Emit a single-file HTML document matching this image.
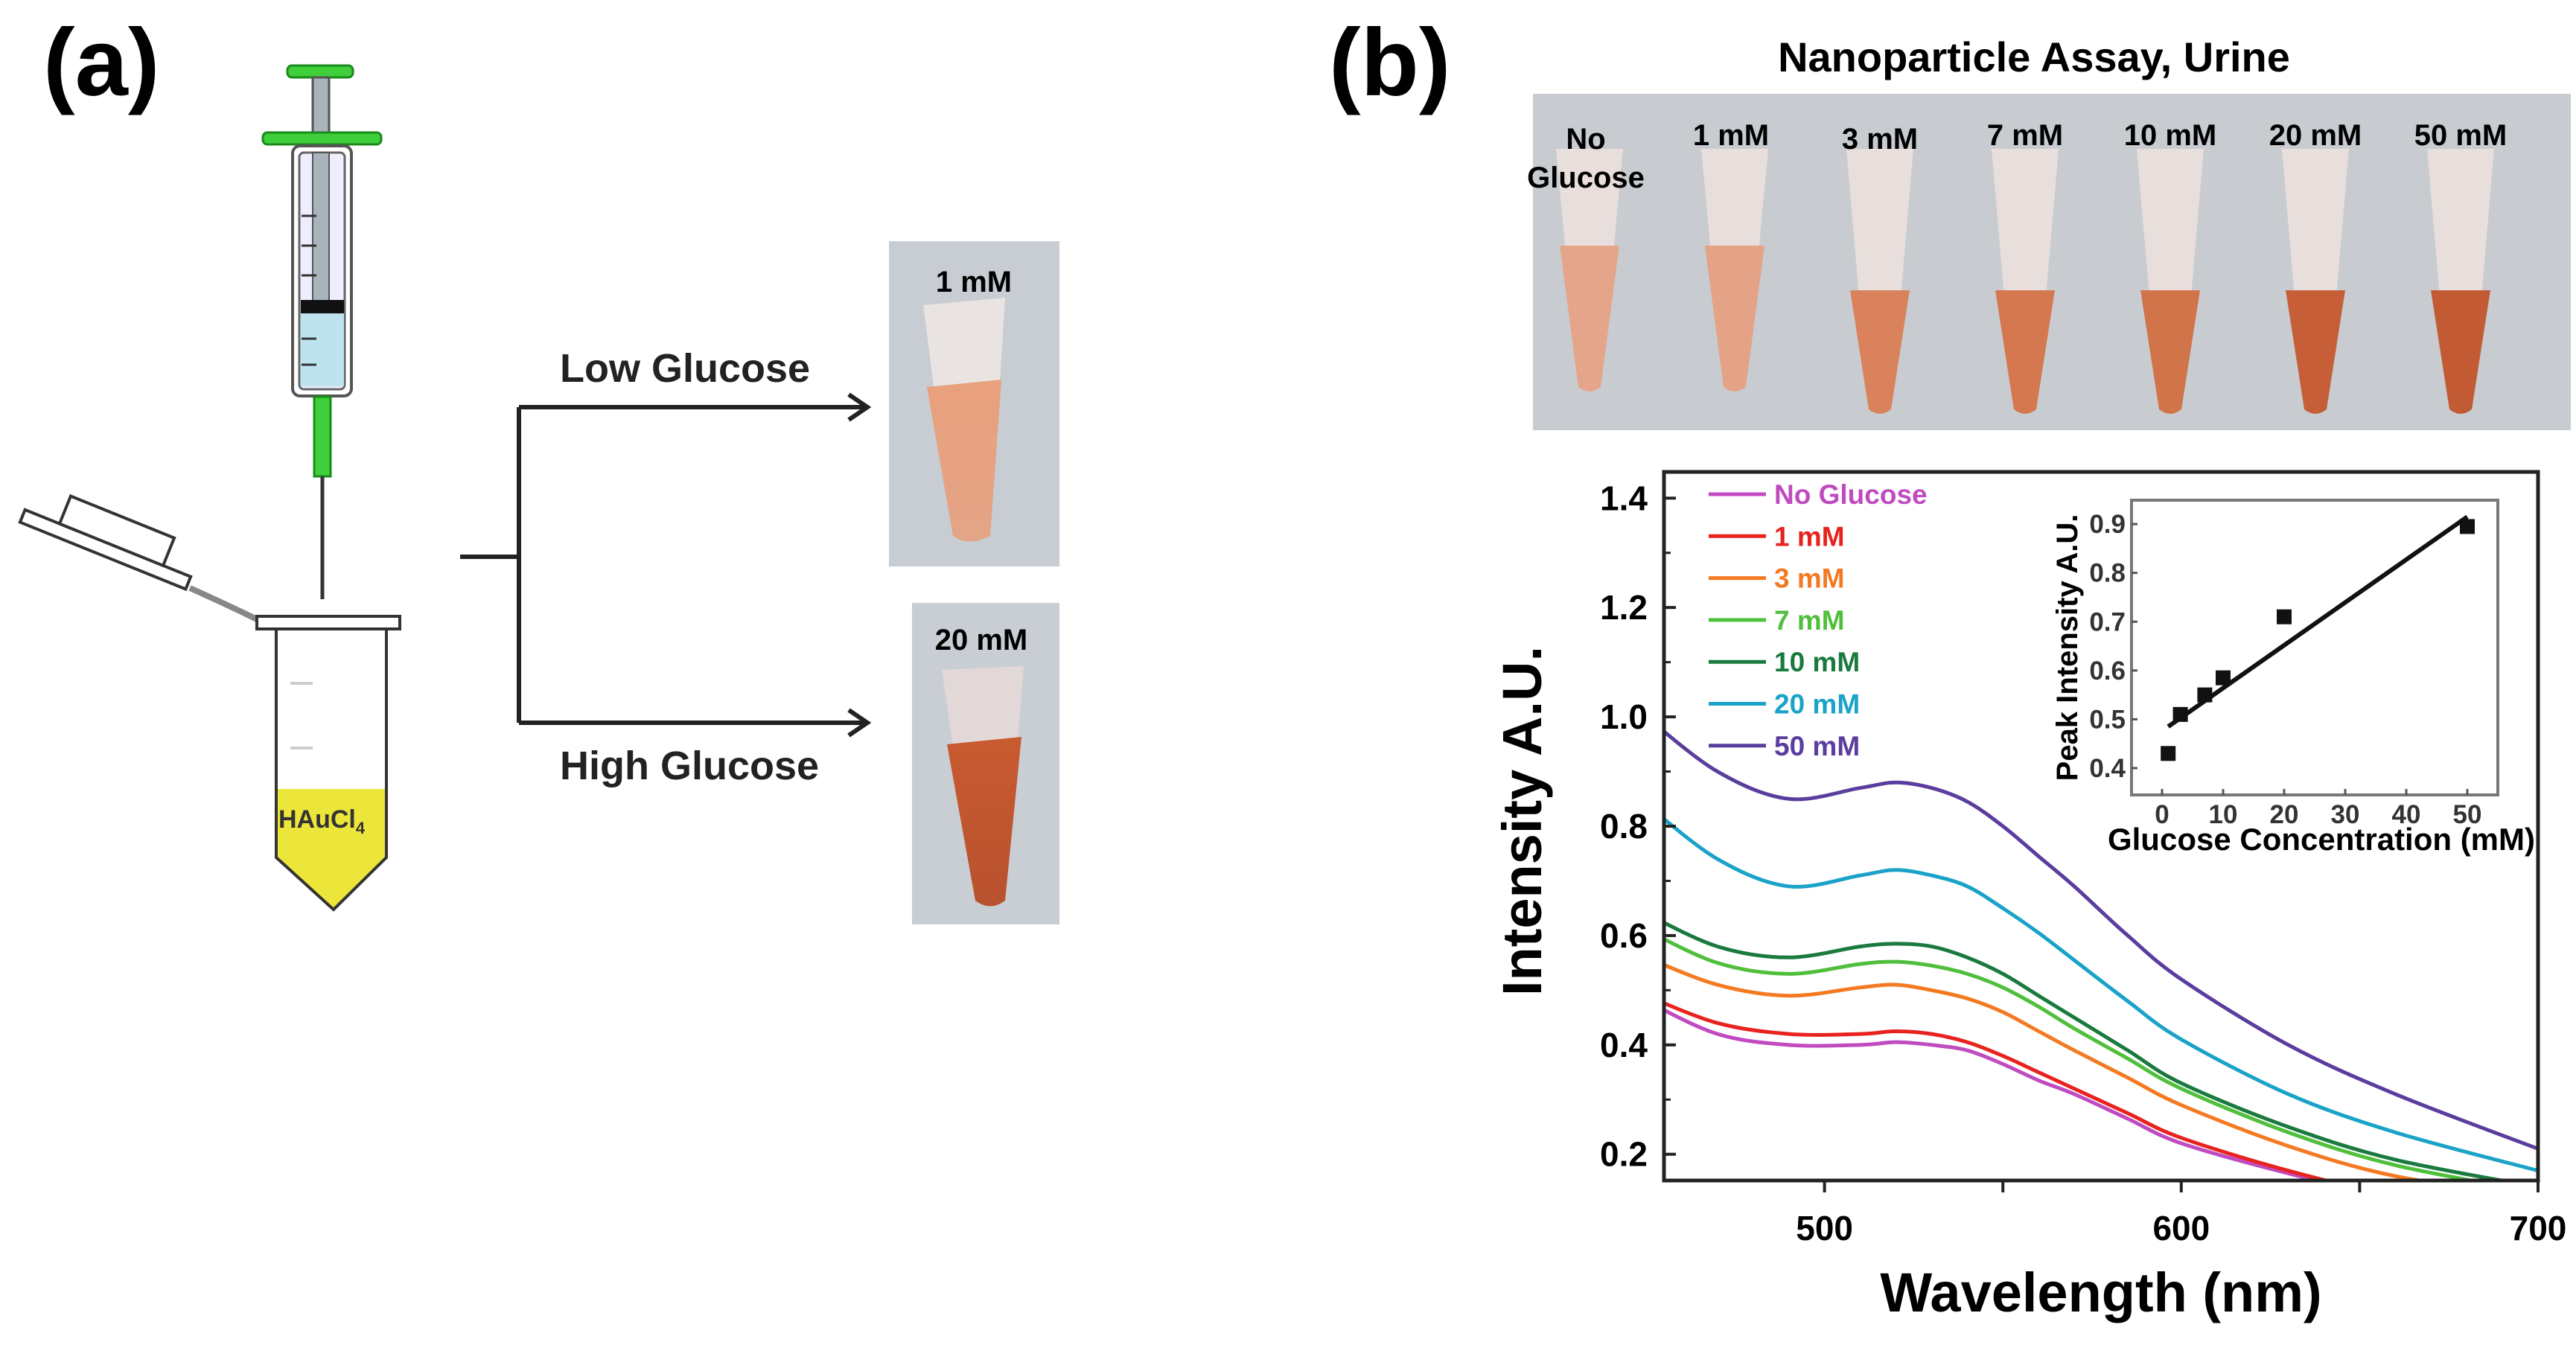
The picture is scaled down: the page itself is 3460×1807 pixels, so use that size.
<!DOCTYPE html>
<html><head><meta charset="utf-8"><style>
html,body{margin:0;padding:0;background:#fff}
svg{display:block}
text{font-family:"Liberation Sans",Arial,sans-serif}
.nar{font-family:"Liberation Sans Narrow","Liberation Sans",sans-serif}
</style></head><body>
<svg id="fig" width="3460" height="1807" viewBox="0 0 3460 1807" xmlns="http://www.w3.org/2000/svg">
<defs>
<linearGradient id="liq1" x1="0" y1="0" x2="0" y2="1"><stop offset="0" stop-color="#e9a07c"/><stop offset="1" stop-color="#e4a487"/></linearGradient>
<linearGradient id="liq2" x1="0" y1="0" x2="0" y2="1"><stop offset="0" stop-color="#c85a30"/><stop offset="1" stop-color="#b8522e"/></linearGradient>
</defs>
<!-- Panel (a) -->
<text x="58" y="128" font-size="128" font-weight="bold">(a)</text>
<g>
<rect x="386" y="88" width="88" height="16" rx="6" fill="#3ecf3a" stroke="#1a8a1a" stroke-width="3"/>
<rect x="420" y="104" width="22" height="80" fill="#a9b3bb" stroke="#555" stroke-width="3"/>
<rect x="353" y="178" width="159" height="16" rx="6" fill="#3ecf3a" stroke="#1a8a1a" stroke-width="3"/>
<rect x="393" y="196" width="79" height="336" rx="10" fill="#fff" stroke="#555" stroke-width="4"/>
<rect x="402" y="205" width="61" height="318" rx="6" fill="#eef" stroke="#666" stroke-width="3"/>
<rect x="420" y="205" width="22" height="200" fill="#a9b3bb" stroke="#555" stroke-width="2"/>
<rect x="404" y="403" width="58" height="18" fill="#111"/>
<rect x="404" y="421" width="58" height="98" fill="#bde3ef"/>
<g stroke="#333" stroke-width="3"><line x1="405" y1="290" x2="425" y2="290"/><line x1="405" y1="330" x2="425" y2="330"/><line x1="405" y1="370" x2="425" y2="370"/><line x1="405" y1="455" x2="425" y2="455"/><line x1="405" y1="490" x2="425" y2="490"/></g>
<rect x="422" y="533" width="22" height="107" fill="#3ecf3a" stroke="#1a8a1a" stroke-width="3"/>
<line x1="433" y1="640" x2="433" y2="805" stroke="#333" stroke-width="5"/>
</g>
<g>
<g transform="rotate(22 130 740)"><rect x="20" y="725" width="240" height="18" fill="#fff" stroke="#333" stroke-width="4"/><rect x="70" y="685" width="150" height="40" fill="#fff" stroke="#333" stroke-width="4"/></g>
<path d="M255 790 Q300 810 345 832" fill="none" stroke="#888" stroke-width="8"/>
<rect x="345" y="828" width="192" height="17" fill="#fff" stroke="#333" stroke-width="4"/>
<path d="M371 1060 L519 1060 L519 1152 L448 1222 L371 1152Z" fill="#ede63a"/>
<path d="M371 845 L371 1152 L448 1222 L519 1152 L519 845" fill="none" stroke="#333" stroke-width="4"/>
<line x1="390" y1="918" x2="420" y2="918" stroke="#ccc" stroke-width="4"/>
<line x1="390" y1="1005" x2="420" y2="1005" stroke="#ccc" stroke-width="4"/>
<text x="374" y="1112" font-size="34" font-weight="bold" fill="#333" class="nar">HAuCl<tspan font-size="22" dy="8">4</tspan></text>
</g>
<g stroke="#222" stroke-width="6" fill="none">
<line x1="618" y1="748" x2="697" y2="748"/>
<line x1="697" y1="547" x2="697" y2="971"/>
<line x1="697" y1="547" x2="1160" y2="547"/>
<line x1="697" y1="971" x2="1160" y2="971"/>
<polyline points="1140,530 1165,547 1140,564"/>
<polyline points="1140,954 1165,971 1140,988"/>
</g>
<text x="752" y="513" font-size="54" font-weight="bold" fill="#222">Low Glucose</text>
<text x="752" y="1047" font-size="54" font-weight="bold" fill="#222">High Glucose</text>
<g>
<rect x="1194" y="324" width="229" height="437" fill="#c7cdd3"/>
<path d="M1240 410 L1350 400 L1330 720 Q1300 735 1280 720Z" fill="#e9e4e2"/>
<path d="M1245 520 L1345 510 L1330 720 Q1300 735 1280 720Z" fill="url(#liq1)"/>
<text x="1308" y="392" font-size="40" font-weight="bold" text-anchor="middle">1 mM</text>
</g>
<g>
<rect x="1225" y="810" width="198" height="432" fill="#c9ced4"/>
<path d="M1265 900 L1375 895 L1350 1210 Q1330 1225 1310 1210Z" fill="#e2d8d8"/>
<path d="M1272 1000 L1372 990 L1350 1210 Q1330 1225 1310 1210Z" fill="url(#liq2)"/>
<text x="1318" y="873" font-size="40" font-weight="bold" text-anchor="middle">20 mM</text>
</g>
<!-- Panel (b) -->
<text x="1785" y="128" font-size="128" font-weight="bold">(b)</text>
<text x="2732" y="96" font-size="56" font-weight="bold" text-anchor="middle">Nanoparticle Assay, Urine</text>
<g id="strip">
<rect x="2059" y="126" width="1394" height="452" fill="#c8ccd0"/>
</g>
<g id="chart"></g>
<g id="inset"></g>
</svg>
<script>
const NS='http://www.w3.org/2000/svg';
function mk(tag,attrs,parent,txt){const e=document.createElementNS(NS,tag);for(const k in attrs)e.setAttribute(k,attrs[k]);if(txt!==undefined)e.textContent=txt;parent.appendChild(e);return e;}

const tubeLabels=['No Glucose','1 mM','3 mM','7 mM','10 mM','20 mM','50 mM'];
const tubeColors=['#e5a58a','#e4a286','#d9825c','#d57850','#d27449','#c65f38','#c25a34'];
const strip=document.getElementById('strip');
tubeLabels.forEach((lab,i)=>{
  const cx=2135+i*195, top=200, liq=i<2?330:390, bot=i<2?520:550;
  const g=mk('g',{},strip);
  
  
  mk('path',{d:`M${cx-45} ${top} L${cx+45} ${top} L${cx+15} ${bot} Q${cx} ${bot+12} ${cx-15} ${bot}Z`,fill:'#e8dfdc'},g);
  mk('path',{d:`M${cx-40} ${liq} L${cx+40} ${liq} L${cx+15} ${bot} Q${cx} ${bot+12} ${cx-15} ${bot}Z`,fill:tubeColors[i]},g);
  if(i===0){
    const t=mk('text',{x:cx-5,y:200,'font-size':40,'font-weight':'bold','text-anchor':'middle',class:'nar'},g,'No');
    
    const t2=mk('text',{x:cx-5,y:252,'font-size':40,'font-weight':'bold','text-anchor':'middle',class:'nar'},g,'Glucose');
    
  } else {
    const t=mk('text',{x:cx+(i===1?-5:0),y:i===2?200:195,'font-size':40,'font-weight':'bold','text-anchor':'middle',class:'nar'},g,lab);
    
  }
});

// ---- Main spectra chart data ----
const wavelengths=[450,470,490,510,520,530,540,550,560,570,585,600,630,660,700];
const seriesNames=['No Glucose','1 mM','3 mM','7 mM','10 mM','20 mM','50 mM'];
const seriesColors=['#c04ac0','#e8231f','#f47a22','#4fbf3c','#1a7a3e','#1aa2c8','#5a3d9e'];
const sNoGlucose=[0.48,0.42,0.40,0.40,0.405,0.40,0.39,0.365,0.335,0.31,0.265,0.22,0.165,0.12,0.09];
const s1mM=[0.49,0.44,0.42,0.42,0.425,0.42,0.405,0.38,0.35,0.32,0.275,0.23,0.17,0.125,0.09];
const s3mM=[0.56,0.51,0.49,0.505,0.51,0.50,0.485,0.46,0.425,0.39,0.34,0.29,0.215,0.16,0.12];
const s7mM=[0.61,0.55,0.53,0.548,0.552,0.545,0.53,0.505,0.47,0.43,0.375,0.32,0.24,0.18,0.13];
const s10mM=[0.64,0.58,0.56,0.58,0.585,0.58,0.56,0.53,0.49,0.45,0.39,0.33,0.25,0.19,0.14];
const s20mM=[0.84,0.74,0.69,0.71,0.72,0.71,0.69,0.65,0.605,0.555,0.48,0.41,0.31,0.24,0.17];
const s50mM=[1.0,0.90,0.85,0.87,0.88,0.87,0.845,0.80,0.745,0.69,0.60,0.52,0.40,0.31,0.21];
const allSeries=[sNoGlucose,s1mM,s3mM,s7mM,s10mM,s20mM,s50mM];
const xTicks=[500,600,700];
const yTicks=[0.2,0.4,0.6,0.8,1.0,1.2,1.4];
const yTickLabels=['0.2','0.4','0.6','0.8','1.0','1.2','1.4'];

const L=2235,R=3409,T=634,B=1586,XMIN=455,XMAX=700,YMIN=0.152,YMAX=1.448;
const sx=v=>L+(v-XMIN)/(XMAX-XMIN)*(R-L);
const sy=v=>B-(v-YMIN)/(YMAX-YMIN)*(B-T);
const chart=document.getElementById('chart');
const cp=mk('clipPath',{id:'plotclip'},chart);
mk('rect',{x:L,y:T,width:R-L,height:B-T},cp);

function smoothPath(pts){
  let d=`M${pts[0][0]} ${pts[0][1]}`;
  for(let i=0;i<pts.length-1;i++){
    const p0=pts[Math.max(0,i-1)],p1=pts[i],p2=pts[i+1],p3=pts[Math.min(pts.length-1,i+2)];
    const c1=[p1[0]+(p2[0]-p0[0])/6,p1[1]+(p2[1]-p0[1])/6];
    const c2=[p2[0]-(p3[0]-p1[0])/6,p2[1]-(p3[1]-p1[1])/6];
    d+=` C${c1[0]} ${c1[1]} ${c2[0]} ${c2[1]} ${p2[0]} ${p2[1]}`;
  }
  return d;
}
const lg=mk('g',{'clip-path':'url(#plotclip)'},chart);
allSeries.forEach((s,i)=>{
  const pts=wavelengths.map((w,j)=>[sx(w),sy(s[j])]);
  const p=mk('path',{d:smoothPath(pts),fill:'none',stroke:seriesColors[i],'stroke-width':5},lg);
  
  
});
const box=mk('rect',{x:L,y:T,width:R-L,height:B-T,fill:'none',stroke:'#222','stroke-width':5},chart);


yTicks.forEach((v,i)=>{
  mk('line',{x1:L,x2:L+16,y1:sy(v),y2:sy(v),stroke:'#222','stroke-width':4},chart);
  if(v+0.1<YMAX) mk('line',{x1:L,x2:L+9,y1:sy(v+0.1),y2:sy(v+0.1),stroke:'#222','stroke-width':3},chart);
  const t=mk('text',{x:L-22,y:sy(v)+16,'font-size':46,'font-weight':'bold','text-anchor':'end'},chart,yTickLabels[i]);
  
  
});
[550,650].concat(xTicks).forEach(v=>{mk('line',{x1:sx(v),x2:sx(v),y1:B,y2:B+16,stroke:'#222','stroke-width':4},chart);});
xTicks.forEach(v=>{
  const t=mk('text',{x:sx(v),y:B+80,'font-size':46,'font-weight':'bold','text-anchor':'middle'},chart,String(v));
  
  
});
const xt=mk('text',{x:2822,y:1762,'font-size':74,'font-weight':'bold','text-anchor':'middle'},chart,'Wavelength (nm)');


const yt=mk('text',{x:0,y:0,'font-size':74,'font-weight':'bold','text-anchor':'middle',transform:'translate(2070,1103) rotate(-90)'},chart,'Intensity A.U.');


seriesNames.forEach((n,i)=>{
  const y=664+i*56.3;
  const g=mk('g',{},chart);
  
  
  mk('line',{x1:2295,x2:2372,y1:y,y2:y,stroke:seriesColors[i],'stroke-width':5},g);
  mk('text',{x:2383,y:y+13,'font-size':37,'font-weight':'bold',fill:seriesColors[i]},g,n);
});

// ---- Inset ----
const conc=[1,3,7,10,20,50];
const peak=[0.43,0.51,0.55,0.585,0.71,0.895];
const fitX=[1,50];
const fitY=[0.485,0.915];
const insetXTicks=[0,10,20,30,40,50];
const insetYTicks=[0.4,0.5,0.6,0.7,0.8,0.9];
const iL=2863,iR=3355,iT=672,iB=1068,iXMIN=-5,iXMAX=55,iYMIN=0.345,iYMAX=0.949;
const ix=v=>iL+(v-iXMIN)/(iXMAX-iXMIN)*(iR-iL);
const iy=v=>iB-(v-iYMIN)/(iYMAX-iYMIN)*(iB-iT);
const inset=document.getElementById('inset');
const ib=mk('rect',{x:iL,y:iT,width:iR-iL,height:iB-iT,fill:'#fff',stroke:'#777','stroke-width':4},inset);


insetYTicks.forEach(v=>{
  mk('line',{x1:iL,x2:iL+8,y1:iy(v),y2:iy(v),stroke:'#555','stroke-width':3},inset);
  const t=mk('text',{x:iL-8,y:iy(v)+12,'font-size':35,'font-weight':'bold','text-anchor':'end',fill:'#333'},inset,v.toFixed(1));
  
  
});
insetXTicks.forEach(v=>{
  mk('line',{x1:ix(v),x2:ix(v),y1:iB,y2:iB-8,stroke:'#555','stroke-width':3},inset);
  const t=mk('text',{x:ix(v),y:iB+38,'font-size':35,'font-weight':'bold','text-anchor':'middle',fill:'#333'},inset,String(v));
  
  
});
const fl=mk('line',{x1:ix(fitX[0]),y1:iy(fitY[0]),x2:ix(fitX[1]),y2:iy(fitY[1]),stroke:'#111','stroke-width':6},inset);


conc.forEach((c,i)=>{
  const r=mk('rect',{x:ix(c)-10,y:iy(peak[i])-10,width:20,height:20,fill:'#111'},inset);
  
  
});
const ixt=mk('text',{x:3118,y:1142,'font-size':42,'font-weight':'bold','text-anchor':'middle'},inset,'Glucose Concentration (mM)');


const iyt=mk('text',{x:0,y:0,'font-size':40,'font-weight':'bold','text-anchor':'middle',transform:'translate(2790,870) rotate(-90)'},inset,'Peak Intensity A.U.');


</script>
</body></html>
